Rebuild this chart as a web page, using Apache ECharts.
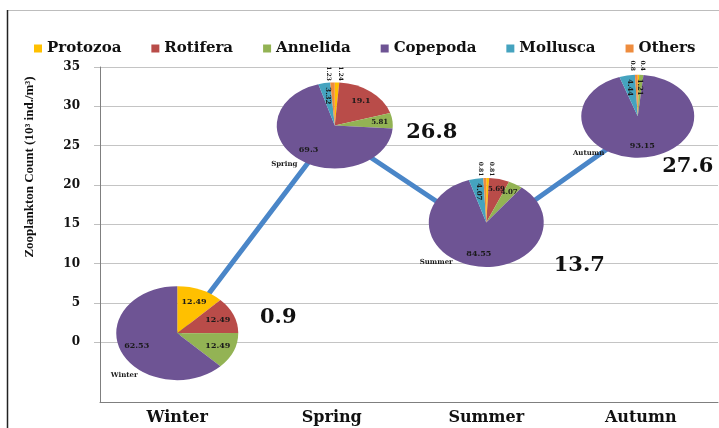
<!DOCTYPE html>
<html>
<head>
<meta charset="utf-8">
<script src="https://cdn.jsdelivr.net/npm/echarts@6/dist/echarts.min.js"></script>
<style>
html, body { margin: 0; padding: 0; background: #fff; }
#main { width: 719px; height: 428px; }
</style>
</head>
<body>
<div id="main"></div>
<script>
// 数据
var seasons = ['Winter', 'Spring', 'Summer', 'Autumn']
var totalCount = [0.9, 26.8, 13.7, 27.6]
var yTicks = [0, 5, 10, 15, 20, 25, 30, 35]
var taxa = ['Protozoa', 'Rotifera', 'Annelida', 'Copepoda', 'Mollusca', 'Others']
var protozoa = [12.49, 1.24, 0.81, 0.4]
var rotifera = [12.49, 19.1, 5.69, 0]
var annelida = [12.49, 5.81, 4.07, 1.21]
var copepoda = [62.53, 69.3, 84.55, 93.15]
var mollusca = [0, 3.32, 4.07, 4.44]
var others = [0, 1.23, 0.81, 0.8]

// 样式
var colors = ['#ffc000', '#b94c49', '#93b354', '#6e5494', '#45a3bf', '#ee8c3e']
var serif = '"DejaVu Serif", serif'
// 椭圆饼图的大小和相对数据点的偏移 (px)
var pieRx = [61, 58, 57.5, 56.5]
var pieRy = [47, 43, 44.5, 41.5]
var pieShift = [[0, -2], [3, -6], [0, -12], [-3, -9]]
var valueLabelOffset = [[101, -18], [100, 1], [93, 31], [47, 41]]

var shares = [protozoa, rotifera, annelida, copepoda, mollusca, others]

var renderSlice = function(params, api) {
    var i = api.value(0)
    var start = api.value(2)
    var pct = api.value(3)
    var k = params.seriesIndex
    var p = api.coord([i, api.value(1)])
    var cx = p[0] + pieShift[i][0]
    var cy = p[1] + pieShift[i][1]
    var rx = pieRx[i]
    var ry = pieRy[i]
    var children = []
    if (pct > 0) {
        var a0 = -Math.PI / 2 + start / 100 * 2 * Math.PI
        var a1 = -Math.PI / 2 + (start + pct) / 100 * 2 * Math.PI
        children.push({
            type: 'sector',
            x: cx,
            y: cy,
            scaleX: rx / ry,
            shape: { cx: 0, cy: 0, r: ry, r0: 0, startAngle: a0, endAngle: a1, clockwise: true },
            style: { fill: api.visual('color') }
        })
        var t = (start + pct / 2) / 100 * 2 * Math.PI
        var sin = Math.sin(t)
        var cos = Math.cos(t)
        var lx, ly, rot = 0, size = 8
        if ((k == 0 || k == 5) && pct < 2) {
            // 小扇区标签放在外面
            lx = cx + rx * sin + (sin >= 0 ? 4 : -4)
            ly = cy - ry * cos - 9
            rot = -Math.PI / 2
            size = 6
        } else if (pct < 5 && cos > 0.9) {
            lx = cx + rx * 0.7 * sin
            ly = cy - ry * 0.7 * cos
            rot = -Math.PI / 2
            size = 7
        } else if (pct < 7) {
            lx = cx + rx * 0.78 * sin
            ly = cy - ry * 0.78 * cos
            size = 7
        } else {
            lx = cx + rx * 0.72 * sin
            ly = cy - ry * 0.72 * cos
        }
        children.push({
            type: 'text',
            x: lx,
            y: ly,
            rotation: rot,
            z2: 10,
            style: {
                text: String(pct),
                font: 'bold ' + size + 'px ' + serif,
                fill: '#1a1a1a',
                align: 'center',
                verticalAlign: 'middle'
            }
        })
    }
    if (k == 3) {
        children.push({
            type: 'text',
            x: cx - rx * 0.87,
            y: cy + ry * 0.9,
            z2: 10,
            style: {
                text: seasons[i],
                font: 'bold 7px ' + serif,
                fill: '#1a1a1a',
                align: 'center',
                verticalAlign: 'middle'
            }
        })
    }
    return { type: 'group', children: children }
}

var pieSeries = taxa.map(function(name, k) {
    var data = seasons.map(function(s, i) {
        var start = 0
        for (var j = 0; j < k; j++) {
            start += shares[j][i]
        }
        return [i, totalCount[i], start, shares[k][i]]
    })
    return {
        name: name,
        type: 'custom',
        z: 3,
        itemStyle: { color: colors[k] },
        renderItem: renderSlice,
        data: data
    }
})

var lineData = totalCount.map(function(v, i) {
    return { value: v, label: { offset: valueLabelOffset[i] } }
})

var myChart = echarts.init(document.querySelector('#main'))

option = {
    animation: false,
    color: colors,
    legend: {
        data: taxa,
        top: 36,
        left: 29,
        icon: 'rect',
        itemWidth: 8,
        itemHeight: 8,
        itemGap: 30,
        textStyle: { fontFamily: serif, fontWeight: 'bold', fontSize: 15, color: '#111' }
    },
    grid: { left: 100, right: 1, top: 67, bottom: 26 },
    xAxis: {
        type: 'category',
        data: seasons,
        boundaryGap: true,
        axisLine: { onZero: false, lineStyle: { color: '#7f7f7f', width: 1 } },
        axisTick: { alignWithLabel: true, length: 3, lineStyle: { color: '#333', width: 2 } },
        axisLabel: { margin: 8, color: '#111', fontFamily: serif, fontWeight: 'bold', fontSize: 16 }
    },
    yAxis: {
        type: 'value',
        min: -7.6,
        max: 35,
        axisLine: { show: true, lineStyle: { color: '#7f7f7f' } },
        axisTick: { show: true, length: 6, customValues: yTicks, lineStyle: { color: '#bfbfbf' } },
        axisLabel: { customValues: yTicks, margin: 20, color: '#111', fontFamily: serif, fontWeight: 'bold', fontSize: 12 },
        splitLine: { lineStyle: { color: '#c4c4c4', width: 1 } }
    },
    graphic: [
        { type: 'line', shape: { x1: 7, y1: 10.5, x2: 719, y2: 10.5 }, style: { stroke: '#bdbdbd', lineWidth: 1 } },
        { type: 'line', shape: { x1: 7.5, y1: 10, x2: 7.5, y2: 428 }, style: { stroke: '#222', lineWidth: 1.5 } },
        {
            type: 'text',
            x: 30,
            y: 167,
            rotation: Math.PI / 2,
            style: {
                text: 'Zooplankton Count (10³ ind./m³)',
                font: 'bold 13px "Liberation Serif", serif',
                fill: '#111',
                align: 'center',
                verticalAlign: 'middle'
            }
        }
    ],
    series: pieSeries.concat([
        {
            name: 'Total',
            type: 'line',
            z: 1,
            data: lineData,
            symbol: 'circle',
            symbolSize: 1,
            lineStyle: { color: '#4a86c8', width: 5 },
            itemStyle: { color: '#4a86c8' },
            label: {
                show: true,
                position: 'inside',
                color: '#111',
                fontFamily: serif,
                fontWeight: 'bold',
                fontSize: 21
            }
        }
    ])
}

myChart.setOption(option)
</script>
</body>
</html>
